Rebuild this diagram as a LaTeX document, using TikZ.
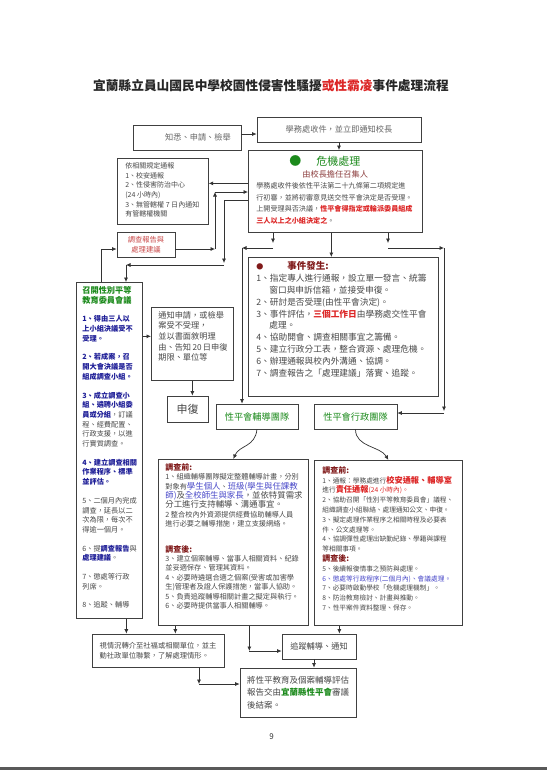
\documentclass[tikz,border=0pt]{standalone}
\usepackage{fontspec}
\setmainfont{Noto Sans CJK TC}
\usepackage{tikz}
\usepackage{xcolor}
\usetikzlibrary{positioning,arrows.meta}
\definecolor{flowgray}{RGB}{72, 72, 72}
\definecolor{flowred}{RGB}{220, 38, 38}
\definecolor{flowdark}{RGB}{128, 26, 26}
\definecolor{flowbrown}{RGB}{140, 62, 62}
\definecolor{flowpink}{RGB}{200, 72, 72}
\definecolor{flowblue}{RGB}{28, 28, 150}
\definecolor{flowlblue}{RGB}{72, 72, 200}
\definecolor{flowgreen}{RGB}{28, 138, 28}

\begin{document}
\begin{tikzpicture}[x=1pt, y=-1pt,
    panel/.style={draw=black!75, line width=0.7pt, anchor=north west, text=flowgray},
    tag/.style={draw=black!75, line width=0.7pt, inner sep=0pt, text=flowgray},
    arr/.style={-{Latex[length=4.5pt, width=4pt]}, line width=0.7pt, black!80},
    link/.style={line width=0.7pt, black!80}]
\useasboundingbox (0,0) rectangle (547,772);

        \node[font=\fontsize{12.7}{14}\selectfont\bfseries, text=black!85] (title) at (271,86) {宜蘭縣立員山國民中學校園性侵害性騷擾\textcolor{flowred}{或性霸凌}事件處理流程};

        % top row
        \node[tag, minimum width=108pt, minimum height=25pt, font=\fontsize{8.2}{10}\selectfont, text=black!60] (know) at (187,137.5) {\hspace*{22pt}知悉、申請、檢舉};
        \node[tag, minimum width=164pt, minimum height=25pt, font=\fontsize{8.2}{10}\selectfont, text=black!60] (recv) at (339,129.5) {學務處收件，並立即通知校長};

        \node[panel, inner xsep=8pt, inner ysep=5.5pt] (crisis) at (248,150) {\parbox[t][71pt][t]{158pt}{\raggedright\fontsize{7.1}{11.5}\selectfont
        \hspace*{33pt}{\fontsize{12}{11.5}\selectfont\textcolor{flowgreen}{●}}\hspace{15pt}{\fontsize{11}{11.5}\selectfont\textcolor{flowgreen}{危機處理}}\\
        \hspace*{46pt}{\fontsize{8.2}{11.5}\selectfont\textcolor{flowbrown}{由校長擔任召集人}}\\
        學務處收件後依性平法第二十九條第二項規定進\\
        行初審，並將初審意見送交性平會決定是否受理。\\
        上開受理與否決議，\textcolor{flowred}{\bfseries 性平會得指定或輪派委員組成}\\
        \textcolor{flowred}{\bfseries 三人以上之小組決定之}。}};

        \node[panel, inner xsep=8pt, inner ysep=4.5pt] (notify) at (117,158) {\parbox[t][57pt][t]{75pt}{\raggedright\fontsize{7}{9.6}\selectfont
        依相關規定通報\\1、校安通報\\2、性侵害防治中心\\(24 小時內)\\3、無管轄權 7 日內通知\\有管轄權機關}};

        \node[tag, minimum width=58pt, minimum height=25pt, align=center, font=\fontsize{7.3}{9.6}\selectfont, text=flowpink] (report) at (146,244.5) {調查報告與\\處理建議};

        % left column
        \node[panel, inner xsep=6pt, inner ysep=4pt] (council) at (76,282) {\parbox[t][328pt][t]{54pt}{\raggedright\fontsize{7.2}{9.7}\selectfont
        {\fontsize{8.2}{9.7}\selectfont\bfseries\color{flowgreen}召開性別平等\\教育委員會議}\\[9pt]
        {\bfseries\color{flowblue}1、得由三人以\\上小組決議受不\\受理。}\\[9pt]
        {\bfseries\color{flowblue}2、若成案，召\\開大會決議是否\\組成調查小組。}\\[9pt]
        {\bfseries\color{flowblue}3、成立調查小\\組、遴聘小組委\\員或分組}，訂議\\程、經費配置、\\行政支援，以進\\行實質調查。\\[9pt]
        {\bfseries\color{flowblue}4、建立調查相關\\作業程序、標準\\並評估。}\\[9pt]
        5、二個月內完成\\調查，延長以二\\次為限，每次不\\得逾一個月。\\[9pt]
        6、提\textcolor{flowblue}{\bfseries 調查報告}與\\\textcolor{flowblue}{\bfseries 處理建議}。\\[9pt]
        7、懲處等行政\\列席。\\[9pt]
        8、追蹤、輔導}};

        \node[panel, inner xsep=7pt, inner ysep=4pt] (notice) at (151,307) {\parbox[t][65pt][t]{68pt}{\raggedright\fontsize{8.2}{10.6}\selectfont
        通知申請，或檢舉\\案受不受理，\\並以書面敘明理\\由、告知\,20\,日申復\\期限、單位等}};
        \node[tag, minimum width=41pt, minimum height=26pt, font=\fontsize{11}{12}\selectfont] (appeal) at (187.5,409) {申復};

        % centre
        \node[panel, inner xsep=8pt, inner ysep=4pt] (event) at (248,257) {\parbox[t][131pt][t]{174pt}{\raggedright\fontsize{8.7}{11.9}\selectfont
        \textcolor{flowdark}{\fontsize{7}{11.9}\selectfont ●}\hspace{24pt}\textcolor{flowdark}{\bfseries\fontsize{9.5}{11.9}\selectfont 事件發生:}\\
        1、指定專人進行通報，設立單一發言、統籌\\
        \hspace*{13pt}窗口與申訴信箱，並接受申復。\\
        2、研討是否受理(由性平會決定)。\\
        3、事件評估，\textcolor{flowred}{\bfseries 三個工作日}由學務處交性平會\\
        \hspace*{13pt}處理。\\
        4、協助開會、調查相關事宜之籌備。\\
        5、建立行政分工表，整合資源、處理危機。\\
        6、辦理通報與校內外溝通、協調。\\
        7、調查報告之「處理建議」落實、追蹤。}};

        \node[tag, minimum width=82pt, minimum height=25pt, font=\fontsize{9.2}{11}\selectfont, text=flowgreen] (coachteam) at (257,416.5) {性平會輔導團隊};
        \node[tag, minimum width=83pt, minimum height=25pt, font=\fontsize{9.2}{11}\selectfont, text=flowgreen] (adminteam) at (355.5,416.5) {性平會行政團隊};

        \node[panel, inner xsep=7pt, inner ysep=4pt] (coach) at (158,459) {\parbox[t][158pt][t]{136pt}{\raggedright\fontsize{7.2}{9.4}\selectfont
        \textcolor{flowdark}{\bfseries\fontsize{8}{9.4}\selectfont 調查前:}\\
        1、組織輔導團隊擬定整體輔導計畫，分別\\
        對象有{\fontsize{8.4}{9.4}\selectfont\color{flowlblue}學生個人}、{\fontsize{8.4}{9.4}\selectfont\color{flowlblue}班級(學生與任課教}\\
        {\fontsize{8.4}{9.4}\selectfont\textcolor{flowlblue}{師)}及\textcolor{flowlblue}{全校師生與家長}，並依特質需求}\\
        {\fontsize{8.4}{9.4}\selectfont 分工進行支持輔導、溝通事宜。}\\
        2 整合校內外資源提供經費協助輔導人員\\
        進行必要之輔導措施，建立支援網絡。\\[16pt]
        \textcolor{flowdark}{\bfseries\fontsize{8}{9.4}\selectfont 調查後:}\\
        3、建立個案輔導、當事人相關資料、紀錄\\
        並妥適保存、管理其資料。\\
        4、必要時遴選合適之個案(受害或加害學\\
        生)管理者及證人保護措施，當事人協助。\\
        5、負責追蹤輔導相關計畫之擬定與執行。\\
        6、必要時提供當事人相關輔導。}};

        \node[panel, inner xsep=8pt, inner ysep=6pt] (admin) at (314,460) {\parbox[t][153pt][t]{132pt}{\raggedright\fontsize{6.7}{9.8}\selectfont
        \textcolor{flowdark}{\bfseries\fontsize{8}{9.8}\selectfont 調查前:}\\
        1、通報：學務處進行\textcolor{flowred}{\bfseries\fontsize{8.2}{9.8}\selectfont 校安通報、輔導室}\\
        進行\textcolor{flowred}{{\bfseries\fontsize{8.2}{9.8}\selectfont 責任通報}(24 小時內)。}\\
        2、協助召開「性別平等教育委員會」議程、\\
        組織調查小組聯絡、處理通知公文、申復。\\
        3、擬定處理作業程序之相關時程及必要表\\
        件、公文處理等。\\
        4、協調彈性處理出缺勤紀錄、學籍與課程\\
        等相關事項。\\
        \textcolor{flowdark}{\bfseries\fontsize{8}{9.8}\selectfont 調查後:}\\
        5、後續報復情事之預防與處理。\\
        \textcolor{flowlblue}{6、懲處等行政程序(二個月內)、會議處理。}\\
        7、必要時啟動學校「危機處理機制」。\\
        8、防治教育檢討、計畫與推動。\\
        7、性平案件資料整理、保存。}};

        % bottom
        \node[tag, minimum width=132pt, minimum height=33pt, align=left, font=\fontsize{7.3}{9.5}\selectfont] (refer) at (158,650.5) {視情況轉介至社福或相關單位，並主\\動社政單位聯繫，了解處理情形。};
        \node[tag, minimum width=74pt, minimum height=25pt, font=\fontsize{8.2}{10}\selectfont] (track) at (319,646.5) {追蹤輔導、通知};
        \node[tag, minimum width=116pt, minimum height=49pt, align=left, font=\fontsize{8.5}{12.5}\selectfont] (final) at (298,692.5) {將性平教育及個案輔導評估\\報告交由\textcolor{flowgreen}{\bfseries 宜蘭縣性平會}審議\\後結案。};

        \node[font=\fontsize{8}{10}\selectfont, text=black!80] (pagenum) at (271.5,737) {9};
        \fill[black!65] (0,766.5) rectangle (547,769.5);

        % connectors, top part
        \draw[arr] ([yshift=3.5pt]know.east) -- ([yshift=-4.5pt]recv.west);
        \draw[arr] (recv.south) -- (recv.south |- crisis.north);
        \draw[arr] ([yshift=8pt]crisis.west) -- ([yshift=8pt]notify.east);

        \coordinate (rp1) at (215,249);
        \coordinate (rp2) at (215,192);
        \draw[arr] ([yshift=-4.5pt]report.east) -- (rp1);
        \draw[arr] (rp1) -- (rp2);
        \draw[arr] (rp2) -- (rp2 -| crisis.west);

        \coordinate (cl1) at (224,200);
        \coordinate (cl2) at (224,265);
        \coordinate (cl3) at (126,265);
        \draw[link] (cl1 -| crisis.west) -- (cl1);
        \draw[arr] (cl1) -- ([yshift=2pt]cl2);
        \draw[arr] (cl2) -- (cl3);
        \draw[arr] (cl3) -- (cl3 |- council.north);

        \draw[arr] ([xshift=-8pt]council.north) |- ([yshift=-4.5pt]report.west);
        \coordinate (nt) at ([yshift=7.5pt]notice.west);
        \draw[arr] (council.east |- nt) -- (nt);
        \draw[arr] (notice.south) -- (notice.south |- appeal.north);

        % crisis to teams
        \coordinate (dl) at (273,248);
        \coordinate (dl2) at (242,248);
        \coordinate (dr) at (388,248);
        \coordinate (dr2) at (444,248);
        \coordinate (dr3) at (444,413);
        \draw[arr] (crisis.south -| dl) -- ([yshift=5pt]dl);
        \draw[arr] (dl) -- (dl2);
        \draw[arr] (dl2) -- (dl2 |- coachteam.north);
        \draw[arr] ([xshift=-4pt]crisis.south) -- ([xshift=-4pt]crisis.south |- event.north);
        \draw[arr] (crisis.south -| dr) -- ([yshift=5pt]dr);
        \draw[arr] (dr) -- (dr2);
        \draw[arr] (dr2) -- ([yshift=2pt]dr3);
        \draw[arr] (dr3) -- (dr3 -| adminteam.east);

        \draw[arr] (coachteam.south) .. controls +(-2,18) and +(6,-14) .. (coach.north);
        \draw[arr] (adminteam.south) .. controls +(0,18) and +(-8,-14) .. (admin.north);

        % connectors, bottom part
        \draw[arr] ([xshift=17pt]council.south) -- ([xshift=17pt]council.south |- refer.north);
        \draw[arr] ([xshift=-58pt]coach.south) -- ([xshift=-58pt]coach.south |- refer.north);
        \coordinate (tk) at ([yshift=-4.5pt]track.west);
        \coordinate (ck) at ([xshift=16pt]coach.south);
        \draw[arr] (ck) -- (ck |- tk);
        \draw[arr] (ck |- tk) -- (tk);
        \draw[arr] ([xshift=-49pt]admin.south) -- ([xshift=-49pt]admin.south |- track.north);
        \draw[arr] ([xshift=-5pt]track.south) -- ([xshift=-5pt]track.south |- final.north);
        \coordinate (fn) at ([yshift=8.5pt]final.west);
        \coordinate (rf) at ([xshift=41pt]refer.south);
        \draw[arr] (rf) -- (rf |- fn);
        \draw[arr] (rf |- fn) -- (fn);
      \end{tikzpicture}
\end{document}
